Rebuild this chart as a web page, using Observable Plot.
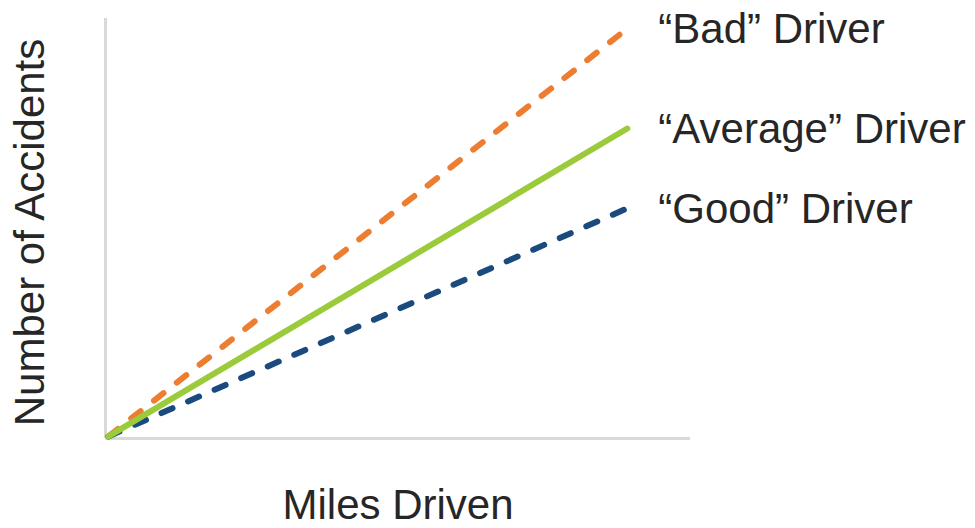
<!DOCTYPE html>
<html>
<head>
<meta charset="utf-8">
<script src="https://cdn.jsdelivr.net/npm/d3@7"></script>
<script src="https://cdn.jsdelivr.net/npm/@observablehq/plot@0.6"></script>
<style>
  html, body { margin: 0; padding: 0; background: #fff; }
</style>
</head>
<body>
<div id="chart"></div>
<script>
const miles = [0.5, 89.2];
const badDriver = [0.5, 97.6];
const averageDriver = [0.5, 73.8];
const goodDriver = [0.5, 54.8];
const seriesNames = ["\u201cBad\u201d Driver", "\u201cAverage\u201d Driver", "\u201cGood\u201d Driver"];
const seriesColors = ["#ED7D31", "#9BCB3B", "#1B4A7F"];
const xLabel = "Miles Driven";
const yLabel = "Number of Accidents";

const seriesValues = [badDriver, averageDriver, goodDriver];
const rows = seriesNames.flatMap((name, i) =>
  miles.map((m, j) => ({series: name, miles: m, accidents: seriesValues[i][j]}))
);
const ends = seriesNames.map((name, i) => ({series: name, miles: miles[miles.length - 1], accidents: seriesValues[i][miles.length - 1]}));

const font = "'Liberation Sans', Arial, sans-serif";
const textColor = "#262626";

const chart = Plot.plot({
  width: 975,
  height: 528,
  marginLeft: 105,
  marginRight: 285,
  marginTop: 18,
  marginBottom: 90,
  style: {fontFamily: font, background: "#fff"},
  x: {domain: [0, 100], axis: null},
  y: {domain: [0, 100], axis: null},
  color: {domain: seriesNames, range: seriesColors},
  marks: [
    Plot.ruleX([0], {y1: 0, y2: 100, stroke: "#d9d9d9", strokeWidth: 3}),
    Plot.ruleY([0], {x1: 0, x2: 100, stroke: "#d9d9d9", strokeWidth: 3}),
    Plot.line(rows.filter(d => d.series === seriesNames[0]), {x: "miles", y: "accidents", stroke: "series", strokeWidth: 6, strokeDasharray: "12,17", strokeLinecap: "round"}),
    Plot.line(rows.filter(d => d.series === seriesNames[2]), {x: "miles", y: "accidents", stroke: "series", strokeWidth: 6, strokeDasharray: "12,17", strokeLinecap: "round"}),
    Plot.line(rows.filter(d => d.series === seriesNames[1]), {x: "miles", y: "accidents", stroke: "series", strokeWidth: 6, strokeLinecap: "round"}),
    Plot.text(ends, {x: "miles", y: "accidents", text: "series", textAnchor: "start", lineAnchor: "middle", dx: 31, dy: 1, fontSize: 42, fill: textColor}),
    Plot.text([xLabel], {frameAnchor: "bottom", textAnchor: "middle", lineAnchor: "middle", dy: 67, fontSize: 42, fill: textColor}),
    Plot.text([yLabel], {frameAnchor: "left", textAnchor: "middle", rotate: -90, lineAnchor: "middle", dx: -75, dy: 4, fontSize: 42, fill: textColor})
  ]
});
document.getElementById("chart").appendChild(chart);
</script>
</body>
</html>
